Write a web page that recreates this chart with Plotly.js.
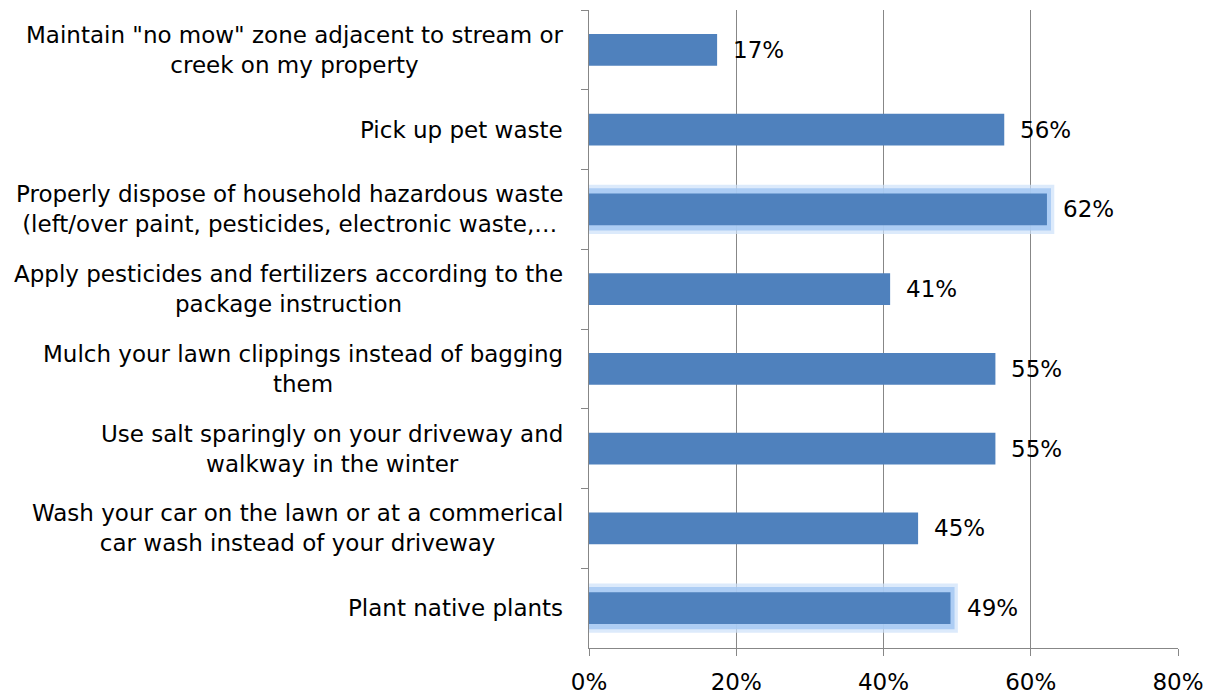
<!DOCTYPE html>
<html><head><meta charset="utf-8">
<script src="https://cdn.plot.ly/plotly-3.0.1.min.js"></script>
<style>html,body{margin:0;padding:0;background:#fff}#chart{width:1211px;height:695px}</style>
</head><body><div id="chart"></div>
<script>
const categories = [
  'Maintain "no mow" zone adjacent to stream or<br>creek on my property',
  'Pick up pet waste',
  'Properly dispose of household hazardous waste<br>(left/over paint, pesticides, electronic waste,…',
  'Apply pesticides and fertilizers according to the<br>package instruction',
  'Mulch your lawn clippings instead of bagging<br>them',
  'Use salt sparingly on your driveway and<br>walkway in the winter',
  'Wash your car on the lawn or at a commerical<br>car wash instead of your driveway',
  'Plant native plants'
];
const values = [17.4, 56.4, 62.2, 40.9, 55.2, 55.2, 44.7, 49.1];
const valueLabels = ['17%', '56%', '62%', '41%', '55%', '55%', '45%', '49%'];
const glowing = [false, false, true, false, false, false, false, true];
const xTickVals = [0, 20, 40, 60, 80];
const xTickText = ['0%', '20%', '40%', '60%', '80%'];

const FONT = 'DejaVu Sans, Verdana, sans-serif';
const ids = categories.map((c, i) => 'c' + i);

const glowOuter = {
  type: 'bar', orientation: 'h',
  y: ids, x: values.map((v, i) => glowing[i] ? v + 1.0 : 0),
  width: 0.62,
  marker: {color: 'rgba(205,225,250,0.7)', line: {width: 0}},
  hoverinfo: 'skip', showlegend: false
};
const glowInner = {
  type: 'bar', orientation: 'h',
  y: ids, x: values.map((v, i) => glowing[i] ? v + 0.55 : 0),
  width: 0.53,
  marker: {color: 'rgba(165,200,242,0.85)', line: {width: 0}},
  hoverinfo: 'skip', showlegend: false
};
const barTrace = {
  type: 'bar', orientation: 'h',
  y: ids, x: values, width: 0.4,
  marker: {color: '#4F81BD', line: {width: 0}},
  showlegend: false
};

const annotations = [];
categories.forEach((c, i) => {
  annotations.push({
    xref: 'paper', yref: 'y', x: 0, y: ids[i],
    xanchor: 'right', yanchor: 'middle', xshift: -24, align: 'center',
    text: c, showarrow: false,
    font: {family: FONT, size: 23, color: '#000'}
  });
  annotations.push({
    xref: 'x', yref: 'y', x: values[i], y: ids[i],
    xanchor: 'left', yanchor: 'middle', xshift: 14,
    text: valueLabels[i], showarrow: false,
    font: {family: FONT, size: 23, color: '#000'}
  });
});

const layout = {
  width: 1211, height: 695,
  margin: {l: 589, r: 33, t: 10, b: 47, pad: 0},
  paper_bgcolor: '#fff', plot_bgcolor: '#fff',
  barmode: 'overlay',
  font: {family: FONT, size: 23, color: '#000'},
  xaxis: {
    range: [0, 80], tickvals: xTickVals, ticktext: xTickText,
    showgrid: true, gridcolor: '#878787', gridwidth: 1,
    showline: true, linecolor: '#878787', linewidth: 1,
    ticks: 'outside', ticklen: 7, tickcolor: '#878787',
    ticklabelstandoff: 6,
    zeroline: false, fixedrange: true,
    tickfont: {family: FONT, size: 23, color: '#000'}
  },
  yaxis: {
    type: 'category', autorange: 'reversed',
    showticklabels: false, tickson: 'boundaries',
    ticks: 'outside', ticklen: 7, tickcolor: '#878787',
    showline: true, linecolor: '#878787', linewidth: 1,
    showgrid: false, zeroline: false, fixedrange: true
  },
  annotations: annotations
};
Plotly.newPlot('chart', [glowOuter, glowInner, barTrace], layout, {displayModeBar: false, staticPlot: true});
</script></body></html>
